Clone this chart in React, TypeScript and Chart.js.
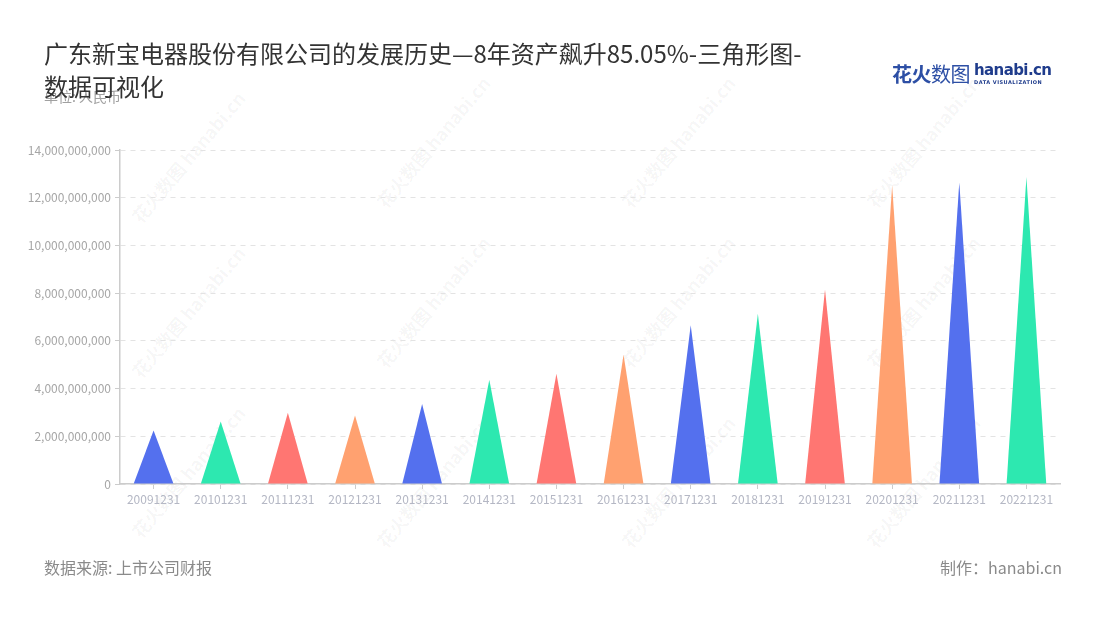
import React, { useEffect, useRef } from "react";
import { Chart, registerables } from "chart.js";

Chart.register(...registerables);

const categories = [
  "20091231", "20101231", "20111231", "20121231", "20131231", "20141231", "20151231",
  "20161231", "20171231", "20181231", "20191231", "20201231", "20211231", "20221231",
];
const assetValues = [
  2240000000, 2620000000, 2990000000, 2870000000, 3350000000, 4370000000, 4620000000,
  5420000000, 6650000000, 7140000000, 8150000000, 12520000000, 12650000000, 12870000000,
];
const palette = ["#5470EE", "#2DE8B0", "#FF7672", "#FFA170"];
const yTicks = [0, 2000000000, 4000000000, 6000000000, 8000000000, 10000000000, 12000000000, 14000000000];

const FONT = "'Noto Sans CJK SC', 'Noto Sans', sans-serif";

const trianglePlugin = {
  id: "triangles",
  beforeDatasetDraw() {
    return false;
  },
  afterDatasetsDraw(chart: any) {
    const ctx = chart.ctx;
    chart.data.datasets.forEach((ds: any, di: number) => {
      const meta = chart.getDatasetMeta(di);
      meta.data.forEach((el: any, i: number) => {
        const p = el.getProps(["x", "y", "base", "width"], true);
        const color = Array.isArray(ds.backgroundColor) ? ds.backgroundColor[i] : ds.backgroundColor;
        ctx.save();
        ctx.beginPath();
        ctx.moveTo(p.x - p.width / 2, p.base);
        ctx.lineTo(p.x, p.y);
        ctx.lineTo(p.x + p.width / 2, p.base);
        ctx.closePath();
        ctx.fillStyle = color;
        ctx.fill();
        ctx.restore();
      });
    });
  },
};

const watermarks = [
  [180, 165], [425, 150], [670, 150], [915, 150],
  [180, 320], [425, 310], [670, 310], [915, 310],
  [180, 480], [425, 490], [670, 490], [915, 490],
];

export default function App() {
  const canvasRef = useRef<HTMLCanvasElement | null>(null);

  useEffect(() => {
    const canvas = canvasRef.current;
    if (!canvas) return;
    const chart = new Chart(canvas, {
      type: "bar",
      data: {
        labels: categories,
        datasets: [
          {
            data: assetValues,
            backgroundColor: assetValues.map((_, i) => palette[i % palette.length]),
            borderWidth: 0,
            barPercentage: 0.59,
            categoryPercentage: 1,
          },
        ],
      },
      options: {
        responsive: false,
        animation: false,
        layout: { padding: { left: 0, top: 150, right: 40, bottom: 106 } },
        plugins: { legend: { display: false }, tooltip: { enabled: false }, title: { display: false } },
        scales: {
          x: {
            afterFit: (s: any) => { s.height = 30; },
            grid: { display: true, offset: false, drawOnChartArea: false, drawTicks: true, tickLength: 5, color: "#cccccc" },
            border: { display: true, color: "#cccccc", width: 1.5 },
            ticks: { color: "#b4b7c4", font: { family: FONT, size: 12 }, padding: 3, maxRotation: 0, autoSkip: false },
          },
          y: {
            min: 0,
            max: 14000000000,
            afterFit: (s: any) => { s.width = 120; },
            afterBuildTicks: (s: any) => { s.ticks = yTicks.map((v) => ({ value: v })); },
            grid: { color: "#e3e3e3", tickColor: "#cccccc", tickLength: 5, drawTicks: true },
            border: { display: true, color: "#cccccc", width: 1.5, dash: [5, 5] },
            ticks: {
              color: "#a6a6a6",
              font: { family: FONT, size: 12 },
              padding: 4,
              callback: (v: any) => Number(v).toLocaleString("en-US"),
            },
          },
        },
      },
      plugins: [trianglePlugin],
    });
    return () => chart.destroy();
  }, []);

  return (
    <div style={{ position: "fixed", left: 0, top: 0, width: 1100, height: 620, background: "#fff", overflow: "hidden", fontFamily: FONT }}>
      {watermarks.map(([x, y], i) => (
        <div
          key={i}
          style={{
            position: "absolute",
            left: x - 70,
            top: y - 12,
            width: 140,
            textAlign: "center",
            transform: "rotate(-50deg)",
            color: "rgba(0,0,0,0.045)",
            fontSize: 18,
            fontWeight: 700,
            whiteSpace: "nowrap",
            pointerEvents: "none",
          }}
        >
          花火数图 hanabi.cn
        </div>
      ))}
      <canvas ref={canvasRef} width={1100} height={620} style={{ position: "absolute", left: 0, top: 0, width: 1100, height: 620 }} />
      <div style={{ position: "absolute", left: 44, top: 86, fontSize: 14, color: "#a0a0a0", lineHeight: "20px" }}>单位: 人民币</div>
      <div style={{ position: "absolute", left: 44, top: 36, width: 820, fontSize: 24, color: "#333", lineHeight: "33px" }}>
        广东新宝电器股份有限公司的发展历史—8年资产飙升85.05%-三角形图-
        <br />
        数据可视化
      </div>
      <div style={{ position: "absolute", left: 892, top: 59, display: "flex", alignItems: "center" }}>
        <span style={{ fontSize: 20, fontWeight: 700, color: "#2D4FA5", letterSpacing: -0.5 }}>花火</span>
        <span style={{ fontSize: 20, fontWeight: 400, color: "#2D4FA5", letterSpacing: -0.5 }}>数图</span>
        <div style={{ marginLeft: 4, display: "flex", flexDirection: "column", lineHeight: 1 }}>
          <span style={{ fontSize: 15, fontWeight: 700, color: "#1F3C8C", fontFamily: "'DejaVu Sans', sans-serif", letterSpacing: -0.6 }}>hanabi.cn</span>
          <span style={{ fontSize: 5, fontWeight: 700, color: "#1F3C8C", letterSpacing: 0.5, marginTop: 2, fontFamily: "'DejaVu Sans', sans-serif" }}>DATA VISUALIZATION</span>
        </div>
      </div>
      <div style={{ position: "absolute", left: 44, top: 555, fontSize: 16, color: "#8a8a8a", lineHeight: "24px" }}>数据来源: 上市公司财报</div>
      <div style={{ position: "absolute", right: 38, top: 555, fontSize: 16, color: "#8a8a8a", lineHeight: "24px" }}>制作：hanabi.cn</div>
    </div>
  );
}
